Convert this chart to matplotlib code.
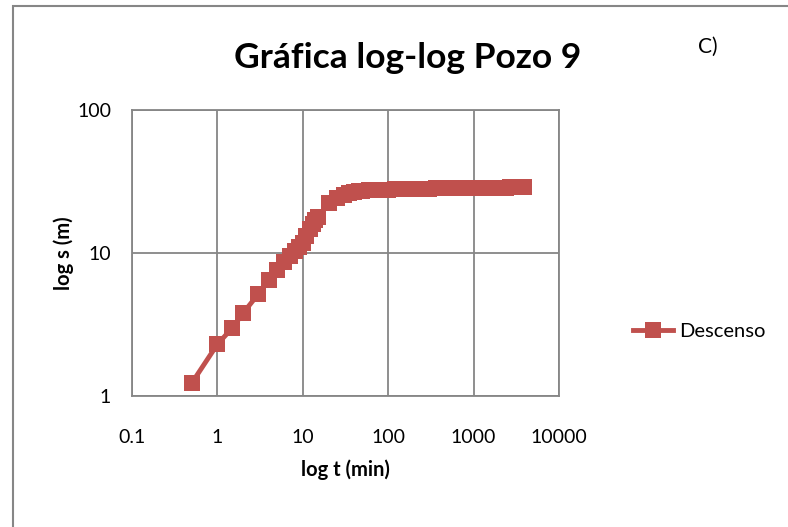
import matplotlib

matplotlib.use('Agg')
import matplotlib.pyplot as plt
from matplotlib.patches import Rectangle
from matplotlib.ticker import FixedLocator, FuncFormatter, NullLocator

# tiempo (min) y descenso (m)
t_min = [0.5, 1, 1.5, 2, 3, 4, 5, 6, 7, 8, 9, 10, 11, 12, 13, 14, 15,
         20, 25, 30, 35, 40, 45, 50, 60, 70, 80, 90, 100, 120, 150, 180,
         210, 240, 270, 300, 360, 420, 480, 540, 600, 720, 840, 960, 1080,
         1200, 1440, 1680, 1920, 2160, 2400, 2640, 2880, 3120, 3360, 3600, 3900]
s_m = [1.23, 2.3, 3.0, 3.8, 5.15, 6.5, 7.6, 8.6, 9.5, 10.3, 11.0, 11.8, 13.2,
       14.6, 16.0, 17.0, 17.8,
       22.3, 24.4, 25.6, 26.3, 26.9, 27.1, 27.3, 27.5, 27.6, 27.7, 27.7, 27.8,
       27.9, 28.0, 28.05, 28.1, 28.15, 28.2, 28.25, 28.3, 28.3, 28.35, 28.4,
       28.4, 28.45, 28.5, 28.5, 28.55, 28.6, 28.6, 28.65, 28.7, 28.7, 28.7,
       28.75, 28.75, 28.8, 28.8, 28.8, 28.8]

x_ticks = [0.1, 1, 10, 100, 1000, 10000]
y_ticks = [1, 10, 100]

red = '#C0504D'
grid_gray = '#868686'
font = ['Lato', 'DejaVu Sans']

fig = plt.figure(figsize=(7.88, 5.27), dpi=100)
fig.patches.append(Rectangle((13 / 788, 1 - 530 / 527), 800 / 788, 524 / 527,
                             transform=fig.transFigure, fill=False,
                             edgecolor=grid_gray, linewidth=1.5))

ax = fig.add_axes([132 / 788, 1 - 396 / 527, 427 / 788, 286 / 527])
ax.plot(t_min, s_m, color=red, linewidth=3.5, marker='s', markersize=12,
        markeredgewidth=0, label='Descenso')
ax.set_xscale('log')
ax.set_yscale('log')
ax.set_xlim(0.1, 10000)
ax.set_ylim(1, 100)

ax.xaxis.set_major_locator(FixedLocator(x_ticks))
ax.yaxis.set_major_locator(FixedLocator(y_ticks))
ax.xaxis.set_minor_locator(NullLocator())
ax.yaxis.set_minor_locator(NullLocator())
fmt = FuncFormatter(lambda v, p: ('%g' % v))
ax.xaxis.set_major_formatter(fmt)
ax.yaxis.set_major_formatter(fmt)
ax.tick_params(length=0, labelsize=14, colors='black')
ax.tick_params(axis='x', pad=24)
ax.tick_params(axis='y', pad=15)
for lab in ax.get_xticklabels() + ax.get_yticklabels():
    lab.set_family(font)

ax.grid(True, color=grid_gray, linewidth=1.3)
ax.set_axisbelow(True)
for sp in ax.spines.values():
    sp.set_color(grid_gray)
    sp.set_linewidth(1.3)

ax.set_xlabel('log t (min)', fontsize=14.5, fontweight='bold', family=font, va='center')
ax.xaxis.set_label_coords(0.5, -(470 - 396) / 286)
ax.set_ylabel('log s (m)', fontsize=14.5, fontweight='bold', family=font, va='center')
ax.yaxis.set_label_coords((64 - 132) / 427, 0.5)

fig.text(408 / 788, 1 - 58 / 527, 'Gráfica log-log Pozo 9', ha='center', va='center',
         fontsize=25.5, fontweight='bold', family=font)
fig.text(708 / 788, 1 - 47 / 527, 'C)', ha='center', va='center', fontsize=15, family=font)

leg = ax.legend(loc='center left', bbox_to_anchor=(633 / 788, 1 - 331 / 527),
                bbox_transform=fig.transFigure, frameon=False, handlelength=2.0,
                handletextpad=0.3, borderpad=0, borderaxespad=0,
                prop={'family': font, 'size': 14.5})

fig.savefig('out.png', dpi=100)
